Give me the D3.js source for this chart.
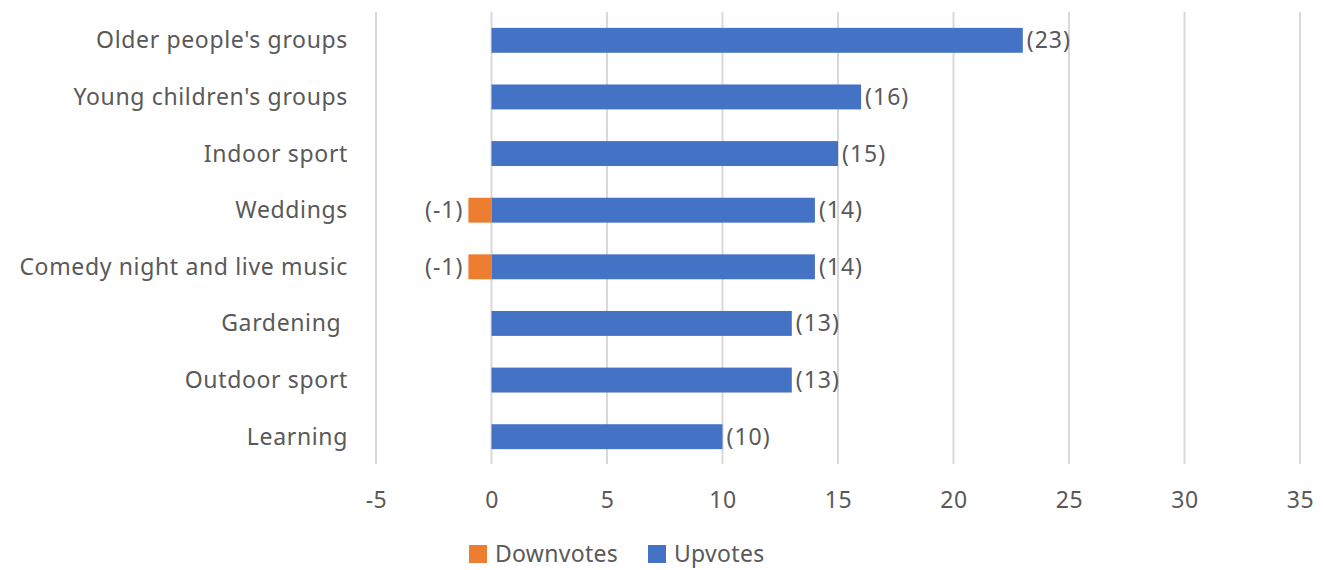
<!DOCTYPE html>
<html>
<head>
<meta charset="utf-8">
<script src="https://cdn.jsdelivr.net/npm/d3@7"></script>
<style>
  body { margin: 0; background: #fff; }
  text { font-family: "Noto Sans", sans-serif; fill: #595959; }
</style>
</head>
<body>
<div id="chart"></div>
<script>
const width = 1323;
const height = 570;

// data
const categories = ["Older people's groups", "Young children's groups", "Indoor sport", "Weddings",
    "Comedy night and live music", "Gardening ", "Outdoor sport", "Learning"];
const upvotes = [23, 16, 15, 14, 14, 13, 13, 10];
const downvotes = [0, 0, 0, -1, -1, 0, 0, 0];
const xTicks = [-5, 0, 5, 10, 15, 20, 25, 30, 35];
const seriesNames = ["Downvotes", "Upvotes"];
const seriesColors = ["#ED7D31", "#4472C4"];

const svg = d3.select("#chart").append("svg")
    .attr("width", width)
    .attr("height", height);

// scales
const x = d3.scaleLinear().domain([-5, 35]).range([376, 1300]);
const y = d3.scaleBand()
    .domain(categories)
    .range([12, 465])
    .paddingInner(0.56)
    .paddingOuter(0.28);

// gridlines
svg.append("g")
    .selectAll("line")
    .data(xTicks)
    .join("line")
    .attr("x1", d => x(d)).attr("x2", d => x(d))
    .attr("y1", 12).attr("y2", 464)
    .attr("stroke", "#D9D9D9")
    .attr("stroke-width", 2);

// x axis labels (plain hyphen for negatives, as in the original)
const xaxis = d3.axisBottom(x).tickValues(xTicks).tickSize(0).tickPadding(0)
    .tickFormat(d => String(d));
const gx = svg.append("g")
    .attr("transform", "translate(0,492)")
    .call(xaxis);
gx.select(".domain").remove();
gx.selectAll("text")
    .style("font-size", "23px")
    .style("letter-spacing", "0.5px")
    .attr("fill", "#595959");

// category labels
svg.append("g")
    .selectAll("text")
    .data(categories)
    .join("text")
    .attr("x", 348)
    .attr("y", d => y(d) + y.bandwidth() / 2)
    .attr("dy", "0.35em")
    .attr("text-anchor", "end")
    .style("white-space", "pre")
    .style("font-size", "23px")
    .style("letter-spacing", "0.65px")
    .text(d => d);

// upvote bars
svg.append("g")
    .selectAll("rect")
    .data(upvotes)
    .join("rect")
    .attr("x", x(0))
    .attr("y", (d, i) => y(categories[i]))
    .attr("width", d => x(d) - x(0))
    .attr("height", y.bandwidth())
    .attr("fill", seriesColors[1]);

// downvote bars
svg.append("g")
    .selectAll("rect")
    .data(downvotes)
    .join("rect")
    .attr("x", d => x(d))
    .attr("y", (d, i) => y(categories[i]))
    .attr("width", d => x(0) - x(d))
    .attr("height", y.bandwidth())
    .attr("fill", seriesColors[0]);

// value labels
svg.append("g")
    .selectAll("text")
    .data(upvotes)
    .join("text")
    .attr("x", d => x(d) + 4)
    .attr("y", (d, i) => y(categories[i]) + y.bandwidth() / 2)
    .attr("dy", "0.35em")
    .style("font-size", "23px")
    .style("letter-spacing", "1px")
    .text(d => "(" + d + ")");

svg.append("g")
    .selectAll("text")
    .data(downvotes.map((d, i) => ({v: d, c: categories[i]})).filter(d => d.v !== 0))
    .join("text")
    .attr("x", d => x(d.v) - 5)
    .attr("y", d => y(d.c) + y.bandwidth() / 2)
    .attr("dy", "0.35em")
    .attr("text-anchor", "end")
    .style("font-size", "23px")
    .style("letter-spacing", "1px")
    .text(d => "(" + d.v + ")");

// legend
const legend = svg.append("g").attr("transform", "translate(469,545)");
const legendX = [0, 179];
seriesNames.forEach(function(name, i) {
    legend.append("rect")
        .attr("x", legendX[i]).attr("y", 0)
        .attr("width", 18).attr("height", 18)
        .attr("fill", seriesColors[i]);
    legend.append("text")
        .attr("x", legendX[i] + 26).attr("y", 9)
        .attr("dy", "0.35em")
        .style("font-size", "23px")
        .style("letter-spacing", "0.3px")
        .text(name);
});
</script>
</body>
</html>
